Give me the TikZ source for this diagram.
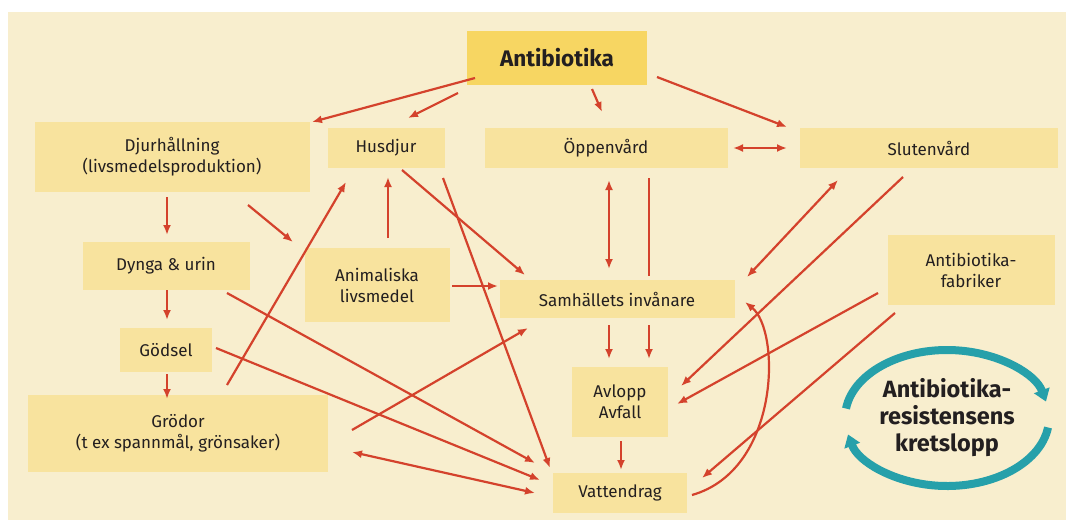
\documentclass[tikz,border=0pt]{standalone}
\usepackage{fontspec}
\setmainfont{Fira Sans}
\usetikzlibrary{arrows.meta}
\definecolor{cream}{RGB}{248,238,206}
\definecolor{boxfill}{RGB}{248,227,158}
\definecolor{abfill}{RGB}{247,214,98}
\definecolor{arred}{RGB}{212,66,44}
\definecolor{cycteal}{RGB}{38,160,170}
\definecolor{ink}{RGB}{35,31,32}

\begin{document}
\begin{tikzpicture}[x=1pt, y=1pt,
      bx/.style={fill=boxfill, inner sep=0pt, align=center, text=ink,
                 font=\fontsize{17}{21}\selectfont},
      ar/.style={-{Latex[length=10pt,width=8pt]}, line width=2.2pt, draw=arred},
      arr/.style={{Latex[length=10pt,width=8pt]}-{Latex[length=10pt,width=8pt]}, line width=2.2pt, draw=arred},
      ln/.style={line width=2.2pt, draw=arred},
      cyc/.style={-{Triangle[length=12pt,width=16pt]}, line width=8pt, draw=cycteal}]
  \useasboundingbox (0,0) rectangle (1066,-520);
  \fill[white] (0,0) rectangle (1066,-520);
  \fill[cream] (8,-12) rectangle (1066,-520);
  % boxes
  \node[bx, fill=abfill, minimum width=180pt, minimum height=54pt,
        font=\fontsize{22.5}{26}\selectfont\bfseries] (antibiotika) at (557,-58) {Antibiotika};
  \node[bx, minimum width=275pt, minimum height=70pt] (djur) at (172,-157) {Djurhållning\\(livsmedelsproduktion)};
  \node[bx, minimum width=117pt, minimum height=40pt] (husdjur) at (386,-148) {Husdjur};
  \node[bx, minimum width=243pt, minimum height=40pt] (oppen) at (606,-148) {Öppenvård};
  \node[bx, minimum width=258pt, minimum height=40pt] (sluten) at (929,-148) {Slutenvård};
  \node[bx, minimum width=167pt, minimum height=48pt] (dynga) at (166,-266) {Dynga \& urin};
  \node[bx, minimum width=145pt, minimum height=74pt] (animal) at (377,-285) {Animaliska\\livsmedel};
  \node[bx, minimum width=235pt, minimum height=38pt] (samh) at (617,-299) {Samhällets invånare};
  \node[bx, minimum width=167pt, minimum height=70pt] (fabrik) at (971,-270) {Antibiotika-\\fabriker};
  \node[bx, minimum width=92pt, minimum height=44pt] (godsel) at (166,-350) {Gödsel};
  \node[bx, minimum width=96pt, minimum height=70pt] (avlopp) at (620,-402) {Avlopp\\Avfall};
  \node[bx, minimum width=300pt, minimum height=77pt] (grodor) at (178,-433) {Grödor\\(t ex spannmål, grönsaker)};
  \node[bx, minimum width=134pt, minimum height=40pt] (vatten) at (620,-493) {Vattendrag};
  \node[align=center, text=ink, font=\fontsize{23.5}{27}\selectfont\bfseries] (cykel) at (947,-418)
    {Antibiotika-\\resistensens\\kretslopp};
  % flows from Antibiotika
  \draw[ar] ([xshift=-82pt,yshift=-20pt]antibiotika.center) -- ([xshift=140pt,yshift=35pt]djur.center);
  \draw[ar] ([xshift=-99pt,yshift=-35pt]antibiotika.center) -- ([xshift=22pt,yshift=30pt]husdjur.center);
  \draw[ar] ([xshift=35pt,yshift=-31pt]antibiotika.center) -- ([xshift=-4pt,yshift=36pt]oppen.center);
  \draw[ar] ([xshift=100pt,yshift=-19pt]antibiotika.center) -- ([xshift=-142pt,yshift=21pt]sluten.center);
  \draw[arr] ([xshift=127pt]oppen.center) -- ([xshift=-142pt]sluten.center);
  % farming side
  \draw[ar] ([xshift=-5pt,yshift=-40pt]djur.center) -- ([xshift=1pt,yshift=31pt]dynga.center);
  \draw[ar] ([xshift=76pt,yshift=-48pt]djur.center) -- ([xshift=-84pt,yshift=43pt]animal.center);
  \draw[ar] ([xshift=1pt,yshift=-24pt]dynga.center) -- ([xshift=1pt,yshift=30pt]godsel.center);
  \draw[ar] ([xshift=1pt,yshift=-24pt]godsel.center) -- ([xshift=-11pt,yshift=34pt]grodor.center);
  \draw[ar] ([xshift=49pt,yshift=48pt]grodor.center) -- ([xshift=-40pt,yshift=-34pt]husdjur.center);
  \draw[ar] ([xshift=11pt,yshift=47pt]animal.center) -- ([xshift=2pt,yshift=-29pt]husdjur.center);
  \draw[ar] ([xshift=16pt,yshift=-22pt]husdjur.center) -- ([xshift=-92pt,yshift=24pt]samh.center);
  \draw[ar] ([xshift=57pt,yshift=-30pt]husdjur.center) -- ([xshift=-70pt,yshift=25pt]vatten.center);
  \draw[ar] ([xshift=75pt,yshift=-1pt]animal.center) -- ([xshift=-119pt,yshift=13pt]samh.center);
  \draw[ar] ([xshift=61pt,yshift=-27pt]dynga.center) -- ([xshift=-85pt,yshift=30pt]vatten.center);
  \draw[ar] ([xshift=50pt,yshift=2pt]godsel.center) -- ([xshift=-80pt,yshift=13pt]vatten.center);
  \draw[arr] ([xshift=174pt,yshift=-19pt]grodor.center) -- ([xshift=-85pt]vatten.center);
  \draw[ar] ([xshift=174pt,yshift=3pt]grodor.center) -- ([xshift=-89pt,yshift=-29pt]samh.center);
  % care and society
  \draw[arr] ([xshift=3pt,yshift=-32pt]oppen.center) -- ([xshift=-8pt,yshift=30pt]samh.center);
  \draw[ln] ([xshift=43pt,yshift=-30pt]oppen.center) -- ([xshift=32pt,yshift=23pt]samh.center);
  \draw[ar] ([xshift=-8pt,yshift=-26pt]samh.center) -- ([xshift=-11pt,yshift=43pt]avlopp.center);
  \draw[ar] ([xshift=32pt,yshift=-26pt]samh.center) -- ([xshift=29pt,yshift=43pt]avlopp.center);
  \draw[ar] ([xshift=1pt,yshift=-39pt]avlopp.center) -- ([xshift=1pt,yshift=23pt]vatten.center);
  \draw[arr] ([xshift=-91pt,yshift=-32pt]sluten.center) -- ([xshift=130pt,yshift=22pt]samh.center);
  \draw[ar] ([xshift=-26pt,yshift=-29pt]sluten.center) -- ([xshift=61pt,yshift=16pt]avlopp.center);
  \draw[ar] ([xshift=-93pt,yshift=-23pt]fabrik.center) -- ([xshift=57pt,yshift=-2pt]avlopp.center);
  \draw[ar] ([xshift=-76pt,yshift=-43pt]fabrik.center) -- ([xshift=82pt,yshift=15pt]vatten.center);
  \draw[ar] ([xshift=72pt,yshift=-2pt]vatten.center)
    .. controls ([xshift=160pt,yshift=23pt]vatten.center) and ([xshift=164pt,yshift=-32pt]samh.center)
    .. ([xshift=128pt,yshift=-3pt]samh.center);
  % cycle
  \draw[cyc] ([shift={(172:102 and 68)}]cykel.center) arc[start angle=172, end angle=14, x radius=102, y radius=68];
  \draw[cyc] ([shift={(-8:102 and 68)}]cykel.center) arc[start angle=-8, end angle=-166, x radius=102, y radius=68];
\end{tikzpicture}
\end{document}
